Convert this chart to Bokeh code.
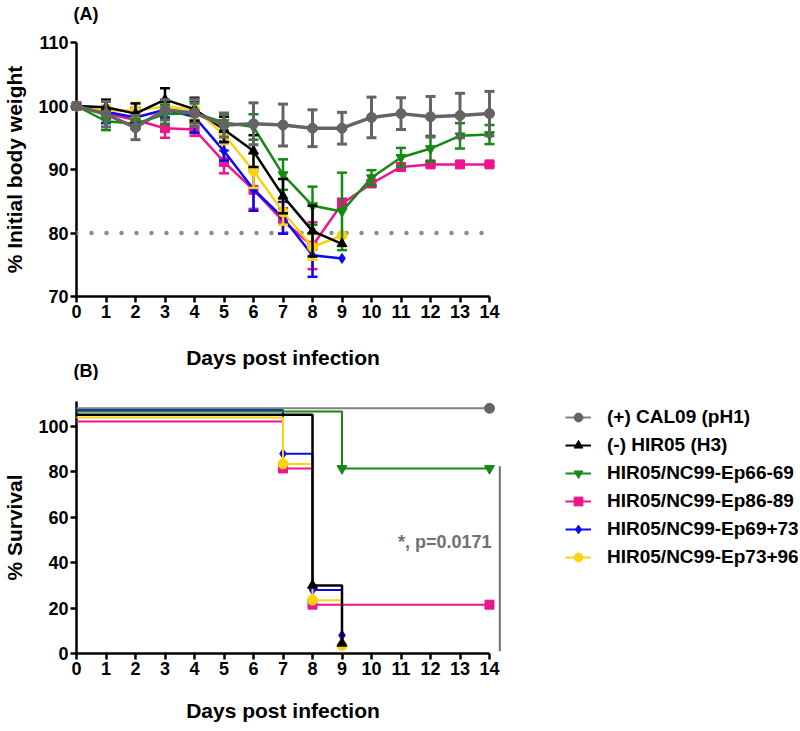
from bokeh.plotting import figure
from bokeh.layouts import column, row
from bokeh.models import Range1d, FixedTicker, Span, Legend, LegendItem
from bokeh.embed import file_html
from bokeh.resources import INLINE
from bokeh.core.properties import value

FONT = "Liberation Sans"

# ---------------- data ----------------
days = list(range(15))
names = ["(+) CAL09 (pH1)", "(-) HIR05 (H3)", "HIR05/NC99-Ep66-69",
         "HIR05/NC99-Ep86-89", "HIR05/NC99-Ep69+73", "HIR05/NC99-Ep73+96"]

# (A) body weight: mean and SD per day
cal09_mean = [100, 98.7, 96.6, 99.4, 98.9, 97.0, 97.2, 97.0, 96.5, 96.5, 98.2, 98.8, 98.3, 98.5, 98.8]
cal09_sd = [0, 2.0, 1.9, 1.6, 2.2, 1.9, 3.3, 3.3, 2.9, 2.5, 3.2, 2.5, 3.2, 3.5, 3.5]
hir05_mean = [100, 99.8, 98.8, 101.0, 99.5, 96.3, 92.9, 85.8, 80.3, 78.3]
hir05_sd = [0, 1.2, 1.6, 1.8, 1.8, 2.0, 2.5, 2.7, 4.0, 0]
ep6669_mean = [100, 97.6, 97.2, 98.7, 98.9, 97.4, 96.7, 89.2, 84.3, 83.4, 88.7, 91.9, 93.3, 95.3, 95.5]
ep6669_sd = [0, 1.4, 0.8, 1.5, 1.5, 1.3, 2.0, 2.4, 3.0, 6.1, 1.2, 1.5, 2.0, 2.0, 1.5]
ep8689_mean = [100, 98.8, 97.8, 96.5, 96.3, 91.2, 86.8, 81.9, 78.0, 84.6, 87.8, 90.4, 90.8, 90.8, 90.8]
ep8689_sd = [0, 0.8, 1.0, 1.5, 1.0, 1.8, 3.0, 2.0, 3.7, 0.8, 0.5, 0.5, 0.3, 0.3, 0.3]
ep6973_mean = [100, 99.1, 98.2, 99.4, 98.3, 92.9, 86.9, 82.4, 76.5, 76.0]
ep6973_sd = [0, 1.8, 1.5, 1.2, 2.5, 1.5, 3.4, 2.5, 3.4, 0]
ep7396_mean = [100, 99.3, 99.3, 99.9, 99.5, 95.5, 89.8, 83.3, 77.8, 79.6]
ep7396_sd = [0, 0.8, 1.2, 1.0, 1.5, 1.5, 2.7, 2.0, 2.0, 0]
threshold = 80

# (B) survival (plotted values, offset as in the original graph)
cal09_t, cal09_s = [0, 14], [108, 108]
hir05_t, hir05_s = [0, 8, 9], [105.2, 30, 4.5]
ep6669_t, ep6669_s = [0, 9, 14], [106.6, 81.5, 81.5]
ep8689_t, ep8689_s = [0, 7, 8, 14], [102.2, 81.5, 21.5, 21.5]
ep6973_t, ep6973_s = [0, 7, 8, 9], [107.3, 88, 28, 8]
ep7396_t, ep7396_s = [0, 7, 8, 9], [103.9, 83.5, 23.5, 3.5]
sig_x, sig_lo, sig_hi = 14.35, 1, 82.5
sig_text, sig_text_x, sig_text_y = "*, p=0.0171", 14.07, 49

weight_ticks = [70, 80, 90, 100, 110]
surv_ticks = [0, 20, 40, 60, 80, 100]

colors = ["#646464", "#000000", "#138a13", "#ec158c", "#0b0bf0", "#fbd20f"]
surv_colors = ["#808080", "#000000", "#138a13", "#ec158c", "#0b0bf0", "#fbd20f"]
markers = ["circle", "triangle", "inverted_triangle", "square", "diamond", "circle"]
msizes = [10, 10, 10, 9, 10, 10]
lwidths = [3.5, 2.5, 2.5, 2.5, 2.5, 2.5]

weights = [(cal09_mean, cal09_sd), (hir05_mean, hir05_sd), (ep6669_mean, ep6669_sd),
           (ep8689_mean, ep8689_sd), (ep6973_mean, ep6973_sd), (ep7396_mean, ep7396_sd)]
survs = [(cal09_t, cal09_s), (hir05_t, hir05_s), (ep6669_t, ep6669_s),
         (ep8689_t, ep8689_s), (ep6973_t, ep6973_s), (ep7396_t, ep7396_s)]
draw_order = [3, 4, 5, 2, 1, 0]

WP = 565   # width of the chart panels
WL = 233   # width of the legend panel


def ov(r):
    r.level = "overlay"
    return r


def style(p, yticks):
    p.outline_line_color = None
    p.grid.visible = False
    p.xaxis.ticker = FixedTicker(ticks=days)
    p.yaxis.ticker = FixedTicker(ticks=yticks)
    for ax in p.axis:
        ax.axis_line_width = 2.5
        ax.axis_line_color = "black"
        ax.major_tick_line_width = 2.5
        ax.major_tick_line_color = "black"
        ax.major_tick_out = 6
        ax.major_tick_in = 0
        ax.minor_tick_line_color = None
        ax.major_label_standoff = 2
        ax.major_label_text_font = FONT
        ax.major_label_text_font_style = "bold"
        ax.major_label_text_font_size = "18px"
        ax.major_label_text_color = "black"
        ax.axis_label_text_font = FONT
        ax.axis_label_text_font_style = "bold"
        ax.axis_label_text_font_size = "21px"
        ax.axis_label_text_color = "black"
    p.yaxis.axis_label_standoff = 9


# ---------------- (A) ----------------
p1 = figure(width=WP, height=380, x_range=Range1d(0, 14), y_range=Range1d(70, 110),
            output_backend="svg", toolbar_location=None,
            min_border_left=76, min_border_right=WP - 489, min_border_top=42, min_border_bottom=84)
style(p1, weight_ticks)
p1.yaxis.axis_label = "% Initial body weight"
p1.xaxis.axis_label = "Days post infection"
p1.xaxis.axis_label_standoff = 25

p1.add_layout(Span(location=threshold, dimension="width", line_color="#8c8c8c",
                   line_width=4.5, line_dash="0 15", line_cap="round"))

for i in draw_order:
    mean, sd = weights[i]
    x = days[:len(mean)]
    c = colors[i]
    ex = [x[k] for k in range(len(x)) if sd[k] > 0]
    up = [mean[k] + sd[k] for k in range(len(x)) if sd[k] > 0]
    lo = [mean[k] - sd[k] for k in range(len(x)) if sd[k] > 0]
    ebw = 3 if i == 0 else 2.5
    ov(p1.segment(x0=ex, y0=lo, x1=ex, y1=up, line_color=c, line_width=ebw))
    ov(p1.scatter(ex, up, marker="dash", size=10, line_color=c, line_width=ebw))
    ov(p1.scatter(ex, lo, marker="dash", size=10, line_color=c, line_width=ebw))
    ov(p1.line(x, mean, line_color=c, line_width=lwidths[i]))
    ov(p1.scatter(x, mean, marker=markers[i], size=msizes[i], fill_color=c, line_color=c))

ov(p1.text(x=[-0.1], y=[116.0], text=["(A)"], text_font=value(FONT), text_font_style="bold",
           text_font_size="18px", text_baseline="top", text_align="left", text_color="black"))
ov(p1.text(x=[-0.1], y=[59.9], text=["(B)"], text_font=value(FONT), text_font_style="bold",
           text_font_size="18px", text_baseline="top", text_align="left", text_color="black"))

# ---------------- (B) ----------------
p2 = figure(width=WP, height=347, x_range=Range1d(0, 14), y_range=Range1d(0, 111),
            output_backend="svg", toolbar_location=None,
            min_border_left=76, min_border_right=WP - 489, min_border_top=21, min_border_bottom=74)
style(p2, surv_ticks)
p2.yaxis.axis_label = "% Survival"
p2.xaxis.axis_label = "Days post infection"
p2.xaxis.axis_label_standoff = 21

for i in draw_order:
    t, s = survs[i]
    c = surv_colors[i]
    lw = 2.5 if i == 1 else 2
    ov(p2.step(t, s, mode="after", line_color=c, line_width=lw))
    ov(p2.scatter(t[1:], s[1:], marker=markers[i], size=msizes[i],
                  fill_color=colors[i], line_color=colors[i]))

ov(p2.segment(x0=[sig_x], y0=[sig_lo], x1=[sig_x], y1=[sig_hi], line_color="#707070", line_width=2))
ov(p2.text(x=[sig_text_x], y=[sig_text_y], text=[sig_text], text_font=value(FONT),
           text_font_style="bold", text_font_size="18px", text_color="#707070",
           text_align="right", text_baseline="middle"))

# ---------------- legend panel (its ranges keep the copies of the data out of view) ----------------
pl = figure(width=WL, height=347, x_range=Range1d(100, 101), y_range=Range1d(1000, 1001),
            output_backend="svg", toolbar_location=None,
            min_border_left=0, min_border_right=0, min_border_top=0, min_border_bottom=0)
pl.axis.visible = False
pl.grid.visible = False
pl.outline_line_color = None
items = []
for i in range(6):
    t, s = survs[i]
    r_line = pl.line(t, s, line_color=surv_colors[i], line_width=2)
    r_pts = pl.scatter(t, s, marker=markers[i], size=msizes[i],
                       fill_color=colors[i], line_color=colors[i])
    items.append(LegendItem(label=names[i], renderers=[r_line, r_pts]))

legend = Legend(items=items, location=(0, 85), glyph_width=26, glyph_height=22,
                label_height=22, label_standoff=16, spacing=6, padding=0, margin=0,
                border_line_color=None, background_fill_alpha=0,
                label_text_font=FONT, label_text_font_style="bold",
                label_text_font_size="19px", label_text_color="black")
pl.add_layout(legend)

layout = column(p1, row(p2, pl, spacing=0), spacing=0)
open("out.html", "w").write(file_html(layout, INLINE))
